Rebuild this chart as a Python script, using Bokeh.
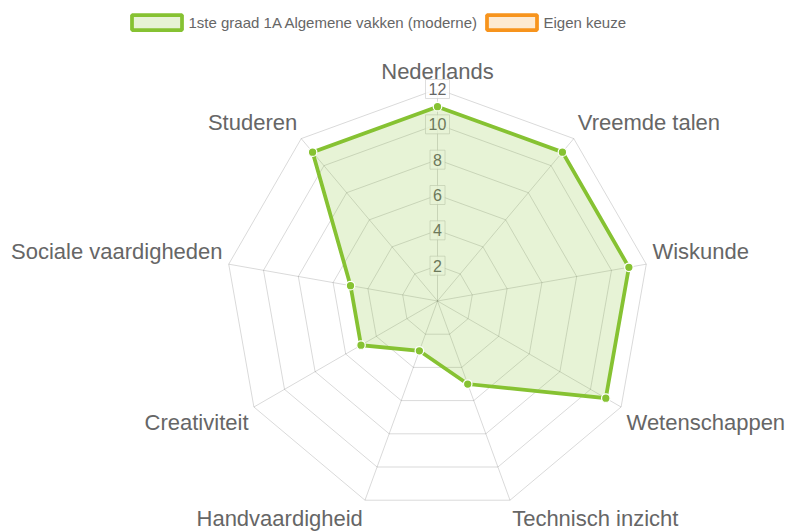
import math
from bokeh.plotting import figure
from bokeh.models import Range1d
from bokeh.core.properties import value
from bokeh.embed import file_html
from bokeh.resources import INLINE

# ---- data ----
categories = ["Nederlands", "Vreemde talen", "Wiskunde", "Wetenschappen",
              "Technisch inzicht", "Handvaardigheid", "Creativiteit",
              "Sociale vaardigheden", "Studeren"]
values = [11, 11, 11, 11, 5, 3, 5, 5, 11]
tick_values = [2, 4, 6, 8, 10, 12]
tick_labels = ["2", "4", "6", "8", "10", "12"]
series_names = ["1ste graad 1A Algemene vakken (moderne)", "Eigen keuze"]
series_colors = ["#86c232", "#f7941d"]
scale_max = 12

# ---- layout ----
W, H = 790, 532
CX, CY = 437.0, 300.5        # radar centre in canvas pixels
R = 212.0                     # radius of the outer ring in pixels
S = R / scale_max             # pixels per value unit
FONT = value("Liberation Sans")
GREY = "#666666"

p = figure(width=W, height=H, output_backend="svg", toolbar_location=None,
           x_range=Range1d(-CX / S, (W - CX) / S),
           y_range=Range1d(-(H - CY) / S, CY / S),
           min_border=0, outline_line_color=None, background_fill_color="white")
p.axis.visible = False
p.grid.visible = False


def cx(px):
    return (px - CX) / S


def cy(py):
    return (CY - py) / S


n = len(categories)
angles = [2 * math.pi * i / n for i in range(n)]

# angle lines
p.segment(x0=[0] * n, y0=[0] * n,
          x1=[scale_max * math.sin(a) for a in angles],
          y1=[scale_max * math.cos(a) for a in angles],
          line_color="black", line_alpha=0.15, line_width=1)

# ring grid
ring_xs = [[t * math.sin(a) for a in angles] + [0] for t in tick_values]
ring_ys = [[t * math.cos(a) for a in angles] + [t] for t in tick_values]
p.multi_line(ring_xs, ring_ys, line_color="black", line_alpha=0.15, line_width=1)

# tick labels with backdrop
tw = [15 if len(s) == 1 else 24 for s in tick_labels]
p.rect(x=[0] * len(tick_values), y=tick_values, width=tw, height=19,
       width_units="screen", height_units="screen",
       fill_color="white", fill_alpha=0.8, line_color="#c8c8c8", line_alpha=0.6, line_width=1)
p.text(x=[0] * len(tick_values), y=tick_values, text=tick_labels,
       text_font=FONT, text_font_size="16px", text_color=GREY,
       text_align="center", text_baseline="middle")

# point labels
lab_r = scale_max + 6.25 / S
groups = {"center": ([], [], []), "left": ([], [], []), "right": ([], [], [])}
for cat, a in zip(categories, angles):
    deg = math.degrees(a)
    x = lab_r * math.sin(a)
    y = lab_r * math.cos(a)
    if deg > 270 or deg < 90:
        y += 24 / S
    if abs(deg) < 1e-6 or abs(deg - 180) < 1e-6:
        al = "center"
    elif deg < 180:
        al = "left"
    else:
        al = "right"
    groups[al][0].append(x)
    groups[al][1].append(y)
    groups[al][2].append(cat)
for al, (xs, ys, ts) in groups.items():
    if ts:
        p.text(x=xs, y=ys, text=ts, text_font=FONT, text_font_size="22px",
               text_color=GREY, text_align=al, text_baseline="top")

# dataset
dx = [v * math.sin(a) for v, a in zip(values, angles)]
dy = [v * math.cos(a) for v, a in zip(values, angles)]
p.patch(dx, dy, fill_color=series_colors[0], fill_alpha=0.2,
        line_color=series_colors[0], line_width=3.75, line_join="miter")
p.scatter(dx, dy, size=8.5, fill_color=series_colors[0], line_color="white", line_width=1.25)

# legend (chart.js style)
leg_box_x = [156.5, 511.5]
leg_text_x = [188.0, 543.0]
leg_y = 22.0
p.rect(x=[cx(v) for v in leg_box_x], y=[cy(leg_y)] * 2, width=50, height=15,
       width_units="screen", height_units="screen",
       fill_color=series_colors, fill_alpha=0.2, line_color=series_colors, line_width=3.75)
p.text(x=[cx(v) for v in leg_text_x], y=[cy(leg_y)] * 2, text=series_names,
       text_font=FONT, text_font_size="15px", text_color=GREY,
       text_align="left", text_baseline="middle")

open("out.html", "w").write(file_html(p, INLINE))
